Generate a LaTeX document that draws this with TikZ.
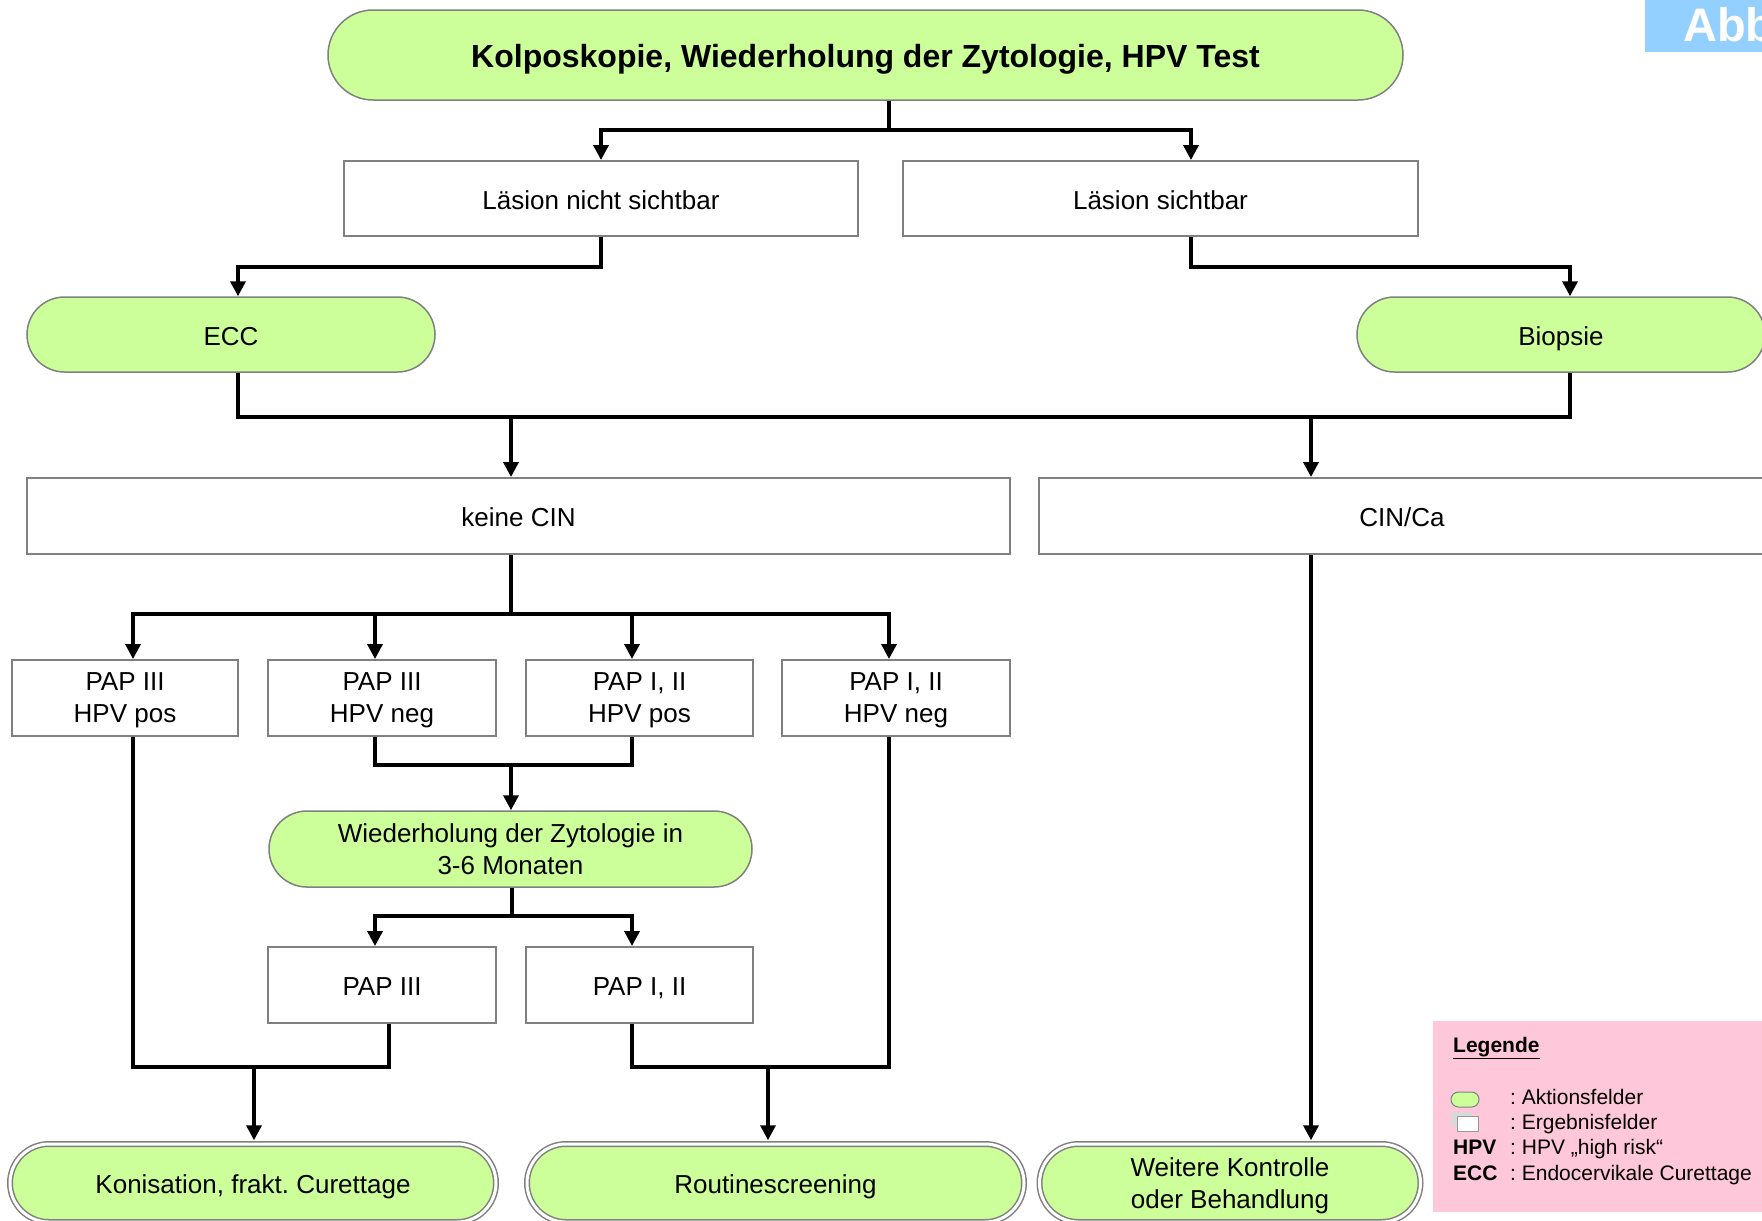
\documentclass[tikz,border=0pt]{standalone}
\usepackage{fontspec}
\setmainfont{Liberation Sans}
\usetikzlibrary{arrows.meta}
\definecolor{actgreen}{RGB}{204,255,153}
\definecolor{edgegray}{RGB}{128,128,128}
\definecolor{legpink}{RGB}{255,199,218}
\definecolor{abbblue}{RGB}{147,207,255}
\definecolor{shadegray}{RGB}{217,217,217}
% last line of a two-line label: keep its descenders out of the box
\newcommand\flatline[1]{\raisebox{0pt}[\height][0pt]{#1}}
\frenchspacing
\begin{document}
\begin{tikzpicture}[x=1pt,y=-1pt,
  every node/.style={inner sep=0pt, font=\fontsize{26}{32}\selectfont},
  oneline/.style={text height=21pt, text depth=0pt},
  action/.style={draw=edgegray, fill=actgreen, line width=1.5pt, align=center},
  result/.style={draw=edgegray, fill=white, line width=2pt, align=center},
  final/.style={action, double=white, double distance=3pt, line width=1.5pt,
                minimum height=78pt, rounded corners=39pt},
  legtext/.style={anchor=base west, font=\fontsize{21}{24}\selectfont},
  conn/.style={line width=3.5pt, black},
  connarrow/.style={conn, -{Triangle[length=15pt,width=15pt]}},
]
\path[use as bounding box] (0,0) rectangle (1762,1221);
\clip (0,0) rectangle (1762,1221);

% corner tab
\fill[abbblue] (1645,0) rectangle (1762,52);
\node[anchor=base west, text=white, font=\fontsize{47}{50}\selectfont\bfseries] (abb) at (1683,41) {Abb};

% flow nodes
\node[action, minimum width=1075pt, minimum height=90pt, rounded corners=45pt,
      text height=24pt, text depth=0pt,
      font=\fontsize{32}{38}\selectfont\bfseries] (top) at (865.5,55)
      {Kolposkopie, Wiederholung der Zytologie, HPV Test};

\node[result, oneline, minimum width=514pt, minimum height=75pt] (nsicht) at (601,198.5) {Läsion nicht sichtbar};
\node[result, oneline, minimum width=515pt, minimum height=75pt] (sicht) at (1160.5,198.5) {Läsion sichtbar};

\node[action, oneline, minimum width=408pt, minimum height=75pt, rounded corners=37.5pt] (ecc) at (231,334.5) {ECC};
\node[action, oneline, minimum width=408pt, minimum height=75pt, rounded corners=37.5pt] (bio) at (1561,334.5) {Biopsie};

\node[result, oneline, minimum width=983pt, minimum height=76pt] (kc) at (518.5,516) {keine CIN};
\node[result, oneline, minimum width=726pt, minimum height=76pt] (cin) at (1402,516) {CIN/Ca};

\node[result, minimum width=226pt, minimum height=76pt] (p1) at (125,698) {PAP III\\\flatline{HPV pos}};
\node[result, minimum width=228pt, minimum height=76pt] (p2) at (382,698) {PAP III\\\flatline{HPV neg}};
\node[result, minimum width=227pt, minimum height=76pt] (p3) at (639.5,698) {PAP I, II\\\flatline{HPV pos}};
\node[result, minimum width=228pt, minimum height=76pt] (p4) at (896,698) {PAP I, II\\\flatline{HPV neg}};

\node[action, minimum width=483pt, minimum height=76pt, rounded corners=38pt] (wdh) at (510.5,849)
      {Wiederholung der Zytologie in\\\flatline{3-6 Monaten}};

\node[result, oneline, minimum width=228pt, minimum height=76pt] (q1) at (382,985) {PAP III};
\node[result, oneline, minimum width=227pt, minimum height=76pt] (q2) at (639.5,985) {PAP I, II};

\node[final, oneline, minimum width=486pt] (kon) at (253,1183) {Konisation, frakt. Curettage};
\node[final, oneline, minimum width=497pt] (rout) at (775.5,1183) {Routinescreening};
\node[final, minimum width=381pt] (weit) at (1230,1183) {Weitere Kontrolle\\\flatline{oder Behandlung}};

% junctions and line columns
\coordinate (j1) at (889,130);
\coordinate (b2r) at (1570,417);
\coordinate (cK) at (511,417);
\coordinate (cC) at (1311,417);
\coordinate (b3) at (511,614);
\coordinate (x1) at (133,0);
\coordinate (x2) at (375,0);
\coordinate (x3) at (632,0);
\coordinate (x4) at (889,0);
\coordinate (x5) at (389,0);
\coordinate (b4) at (511,765);
\coordinate (b5) at (512,916);
\coordinate (b6) at (254,1067);
\coordinate (b7) at (768,1067);

% connectors
\draw[conn] (top.south -| j1) -- (j1);
\draw[connarrow] (j1) -| (nsicht.north);
\draw[connarrow] (j1) -| ([xshift=30.5]sicht.north);

\draw[connarrow] (nsicht.south) -- ++(0,30) -| ([xshift=7]ecc.north);
\draw[connarrow] ([xshift=30.5]sicht.south) -- ++(0,30) -| ([xshift=9]bio.north);

\draw[conn] ([xshift=7]ecc.south) |- (b2r) -- ([xshift=9]bio.south);
\draw[connarrow] (cK) -- (cK |- kc.north);
\draw[connarrow] (cC) -- (cC |- cin.north);

\draw[conn] (kc.south -| b3) -- (b3);
\draw[connarrow] (b3) -| (x1 |- p1.north);
\draw[connarrow] (b3) -| (x4 |- p4.north);
\draw[connarrow] (b3 -| x2) -- (x2 |- p2.north);
\draw[connarrow] (b3 -| x3) -- (x3 |- p3.north);

\draw[conn] (x2 |- p2.south) |- (b4) -| (x3 |- p3.south);
\draw[connarrow] (b4) -- (b4 |- wdh.north);

\draw[conn] (wdh.south -| b5) -- (b5);
\draw[connarrow] (b5) -| (x2 |- q1.north);
\draw[connarrow] (b5) -| (x3 |- q2.north);

\draw[conn] (x1 |- p1.south) |- (x5 |- b6) -- (x5 |- q1.south);
\draw[connarrow, shorten >=3pt] (b6) -- (b6 |- kon.north);

\draw[conn] (x3 |- q2.south) |- (x4 |- b7) -- (x4 |- p4.south);
\draw[connarrow, shorten >=3pt] (b7) -- (b7 |- rout.north);

\draw[connarrow, shorten >=3pt] (cC |- cin.south) -- (cC |- weit.north);

% legend
\fill[legpink] (1433,1021) rectangle (1762,1212);
\node[legtext, font=\fontsize{21}{24}\selectfont\bfseries] (lgtitle) at (1453,1052) {\underline{Legende}};
\node[draw=edgegray, fill=actgreen, line width=1pt, minimum width=28pt, minimum height=15pt,
      rounded corners=7.5pt] (licon1) at (1465,1099.5) {};
\node[legtext] (ltext1) at (1510,1104) {: Aktionsfelder};
\fill[shadegray] (1451,1112) rectangle (1472,1127);
\node[draw=shadegray!70!black, fill=white, line width=0.8pt, minimum width=21pt, minimum height=15pt]
      (licon2) at (1467.5,1123.5) {};
\node[legtext] (ltext2) at (1510,1129) {: Ergebnisfelder};
\node[legtext, font=\fontsize{21}{24}\selectfont\bfseries] (lkey3) at (1453,1154) {HPV};
\node[legtext] (ltext3) at (1510,1154) {: HPV „high risk“};
\node[legtext, font=\fontsize{21}{24}\selectfont\bfseries] (lkey4) at (1453,1180) {ECC};
\node[legtext] (ltext4) at (1510,1180) {: Endocervikale Curettage};
\end{tikzpicture}
\end{document}
